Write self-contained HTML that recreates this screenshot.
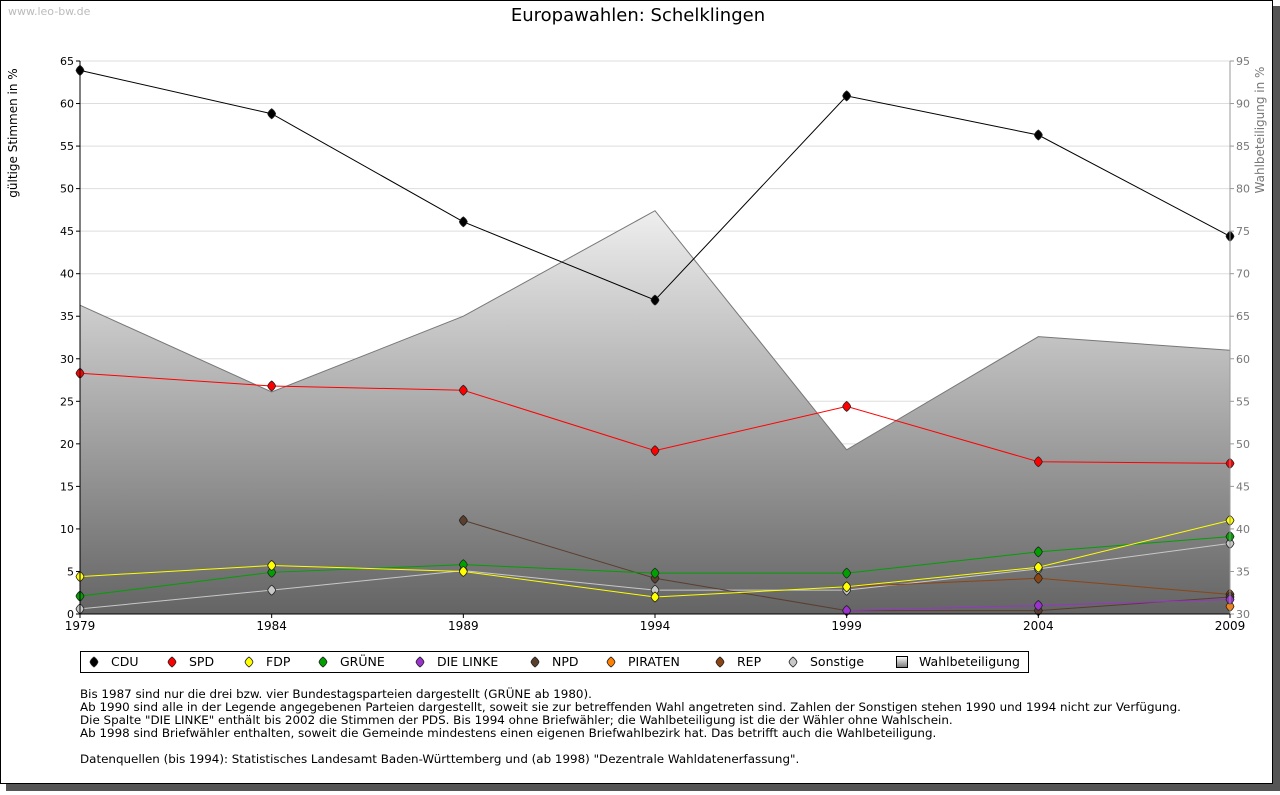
<!DOCTYPE html>
<html><head><meta charset="utf-8"><style>
body{margin:0;background:#fff;width:1280px;height:791px;overflow:hidden;font-family:"DejaVu Sans","Liberation Sans",sans-serif}
</style></head><body>
<svg id="c" width="1280" height="791" xmlns="http://www.w3.org/2000/svg" font-family="DejaVu Sans, Liberation Sans, sans-serif">
<defs>
<linearGradient id="g" gradientUnits="userSpaceOnUse" x1="0" y1="200" x2="0" y2="614"><stop offset="0" stop-color="#f2f2f2"/><stop offset="1" stop-color="#646464"/></linearGradient>
<linearGradient id="lg" x1="0" y1="0" x2="0" y2="1"><stop offset="0" stop-color="#fff"/><stop offset="1" stop-color="#777"/></linearGradient>
</defs>
<rect x="6" y="6" width="1274" height="785" fill="#555"/>
<rect x="0.5" y="0.5" width="1272" height="783" fill="#fff" stroke="#000"/>
<text x="8" y="15" font-size="11" fill="#bbb">www.leo-bw.de</text>
<text x="638" y="21" font-size="18" text-anchor="middle" fill="#000">Europawahlen: Schelklingen</text>
<text transform="translate(17,133) rotate(-90)" font-size="12" text-anchor="middle">gültige Stimmen in %</text>
<text transform="translate(1264,130) rotate(-90)" font-size="12" text-anchor="middle" fill="#777">Wahlbeteiligung in %</text>
<g id="grid"></g><g id="area"></g><g id="series"></g><g id="axes"></g>
<g id="legend">
<rect x="80.5" y="651.5" width="948" height="21" fill="#fff" stroke="#000"/>
</g>
<g font-size="11.9">
<text x="80" y="698">Bis 1987 sind nur die drei bzw. vier Bundestagsparteien dargestellt (GRÜNE ab 1980).</text>
<text x="80" y="711">Ab 1990 sind alle in der Legende angegebenen Parteien dargestellt, soweit sie zur betreffenden Wahl angetreten sind. Zahlen der Sonstigen stehen 1990 und 1994 nicht zur Verfügung.</text>
<text x="80" y="724">Die Spalte "DIE LINKE" enthält bis 2002 die Stimmen der PDS. Bis 1994 ohne Briefwähler; die Wahlbeteiligung ist die der Wähler ohne Wahlschein.</text>
<text x="80" y="737">Ab 1998 sind Briefwähler enthalten, soweit die Gemeinde mindestens einen eigenen Briefwahlbezirk hat. Das betrifft auch die Wahlbeteiligung.</text>
<text x="80" y="763">Datenquellen (bis 1994): Statistisches Landesamt Baden-Württemberg und (ab 1998) "Dezentrale Wahldatenerfassung".</text>
</g>
</svg>
<script>
const years=[1979,1984,1989,1994,1999,2004,2009];
const leftTicks=[0,5,10,15,20,25,30,35,40,45,50,55,60,65];
const rightTicks=[30,35,40,45,50,55,60,65,70,75,80,85,90,95];
const turnout=[66.3,56.1,65.0,77.4,49.3,62.6,61.0];
const cdu=[63.9,58.8,46.1,36.9,60.9,56.3,44.4];
const spd=[28.3,26.8,26.3,19.2,24.4,17.9,17.7];
const fdp=[4.4,5.7,5.0,2.0,3.2,5.5,11.0];
const gruene=[2.1,4.9,5.8,4.8,4.8,7.3,9.1];
const linke=[null,null,null,null,0.4,1.0,1.7];
const npd=[null,null,11.0,4.2,0.4,0.4,2.0];
const piraten=[null,null,null,null,null,null,0.9];
const rep=[null,null,null,null,3.2,4.2,2.3];
const sonstige=[0.6,2.8,5.1,2.8,2.8,5.3,8.3];
const NS="http://www.w3.org/2000/svg";
const X0=80,X1=1230,YT=61,YB=614;
const x=i=>X0+(years[i]-years[0])/(years[years.length-1]-years[0])*(X1-X0);
const y=v=>YB-v/65*(YB-YT);
const y2=v=>YB-(v-30)/65*(YB-YT);
function el(t,a,p){const e=document.createElementNS(NS,t);for(const k in a)e.setAttribute(k,a[k]);document.getElementById(p).appendChild(e);return e;}
leftTicks.forEach(v=>{
 if(v>0){const l=el('line',{x1:X0,x2:X1,y1:y(v),y2:y(v),stroke:'#ddd'},'grid');
 
 }
 const t=el('text',{x:X0-6,y:y(v)+4,'font-size':11,'text-anchor':'end'},'axes');t.textContent=v;
 
 
 el('line',{x1:X0-4,x2:X0,y1:y(v),y2:y(v),stroke:'#000'},'axes');
});
rightTicks.forEach(v=>{
 const t=el('text',{x:X1+6,y:y2(v)+4,'font-size':11,fill:'#777'},'axes');t.textContent=v;
 
 
 el('line',{x1:X1,x2:X1+4,y1:y2(v),y2:y2(v),stroke:'#999'},'axes');
});
years.forEach((yr,i)=>{
 const t=el('text',{x:x(i),y:YB+16,'font-size':12,'text-anchor':'middle'},'axes');t.textContent=yr;
 
 
 el('line',{x1:x(i),x2:x(i),y1:YB,y2:YB+4,stroke:'#000'},'axes');
});
el('line',{x1:X0,x2:X0,y1:YT,y2:YB,stroke:'#000'},'axes');
el('line',{x1:X1,x2:X1,y1:YT,y2:YB,stroke:'#999'},'axes');
el('line',{x1:X0,x2:X1,y1:YB,y2:YB,stroke:'#000'},'axes');
let d='M'+x(0)+','+YB;turnout.forEach((v,i)=>d+=' L'+x(i)+','+y2(v));d+=' L'+x(6)+','+YB+'Z';
const ar=el('path',{d:d,fill:'url(#g)'},'area');


let dl='';turnout.forEach((v,i)=>dl+=(i?' L':'M')+x(i)+','+y2(v));
el('path',{d:dl,fill:'none',stroke:'#777'},'area');
function marker(cx,cy,c,p){return el('path',{d:`M${cx},${cy-5} Q${cx+3},${cy-3} ${cx+4},${cy} Q${cx+3},${cy+3} ${cx},${cy+5} Q${cx-3},${cy+3} ${cx-4},${cy} Q${cx-3},${cy-3} ${cx},${cy-5}Z`,fill:c,stroke:'#222','stroke-width':0.8},p);}
const series=[['sonstige',sonstige,'#c8c8c8'],['rep',rep,'#8b4513'],['piraten',piraten,'#ff8000'],['npd',npd,'#5a3e2e'],['linke',linke,'#9933cc'],['gruene',gruene,'#00a000'],['fdp',fdp,'#ffff00'],['spd',spd,'#ff0000'],['cdu',cdu,'#000000']];
series.forEach(([n,arr,c])=>{
 let p='';arr.forEach((v,i)=>{if(v==null)return;p+=(p?' L':'M')+x(i)+','+y(v);});
 const ln=el('path',{d:p,fill:'none',stroke:c==='#000000'?'#000':c,'stroke-width':1},'series');
 
 
 arr.forEach((v,i)=>{if(v==null)return;const m=marker(x(i),y(v),c,'series');
  
  });
});
const leg=[['CDU','#000',94],['SPD','#ff0000',172],['FDP','#ffff00',249],['GRÜNE','#00a000',323],['DIE LINKE','#9933cc',420],['NPD','#5a3e2e',535],['PIRATEN','#ff8000',611],['REP','#8b4513',720],['Sonstige','#c8c8c8',793]];
leg.forEach(([t,c,lx])=>{
 const m=marker(lx,662,c,'legend');
 
 
 const tx=el('text',{x:lx+17,y:666,'font-size':12.5},'legend');tx.textContent=t;
 
 
});
el('rect',{x:896.5,y:656.5,width:11,height:11,fill:'url(#lg)',stroke:'#000'},'legend');
const wt=el('text',{x:919,y:666,'font-size':12.5},'legend');wt.textContent='Wahlbeteiligung';


</script>
</body></html>
